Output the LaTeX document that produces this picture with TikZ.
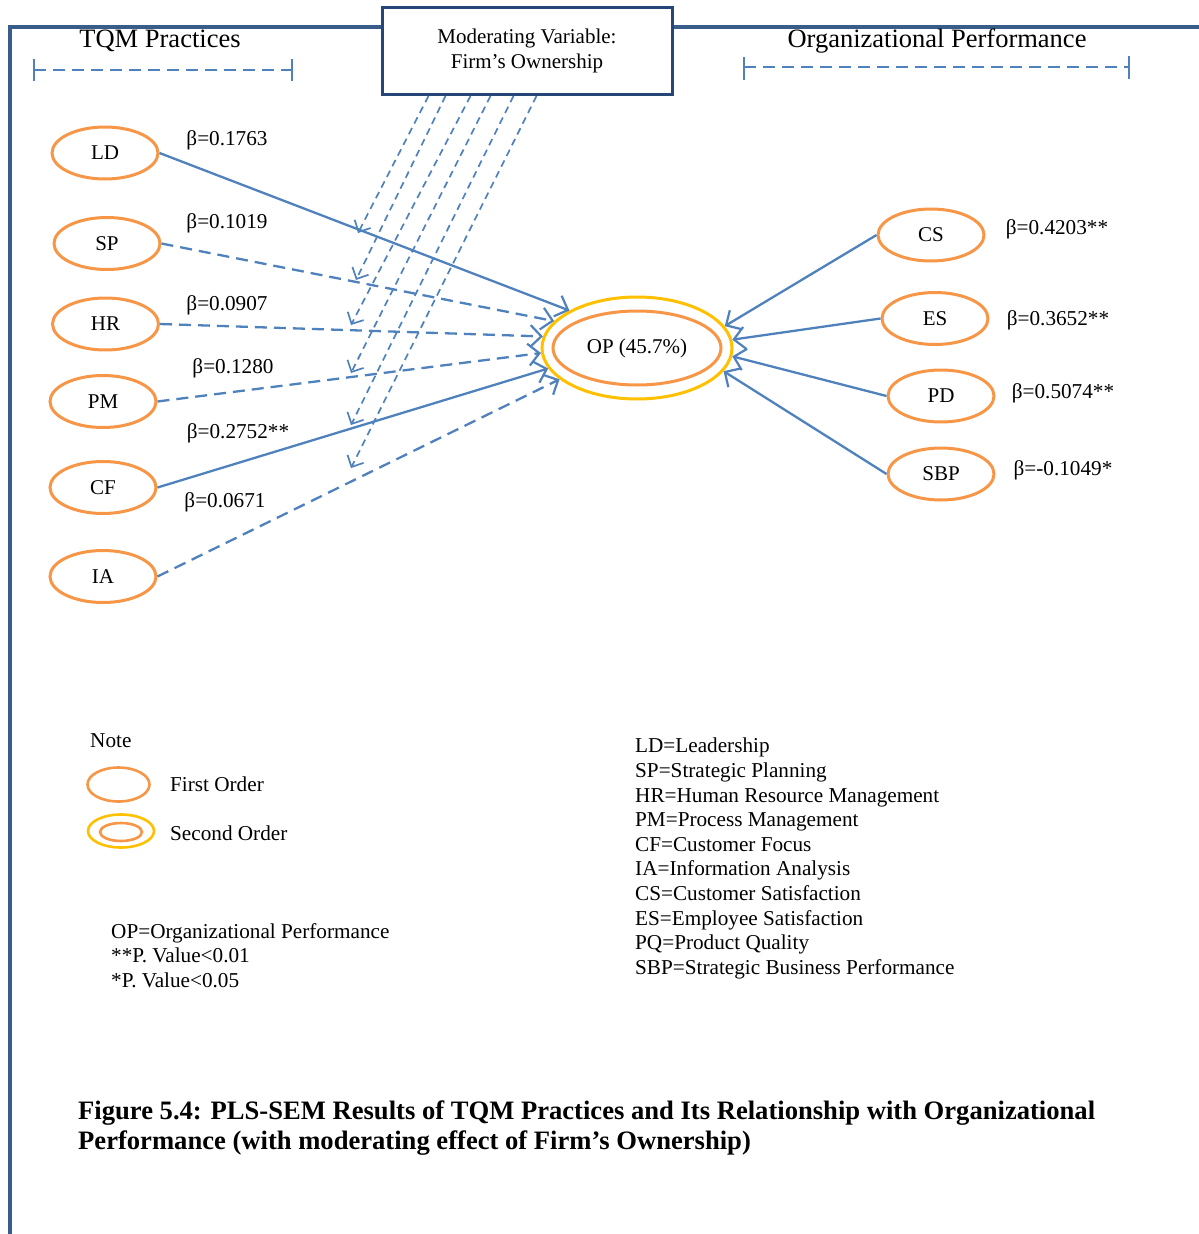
\documentclass[tikz,border=0pt]{standalone}
\usepackage{fontspec}
\setmainfont{Liberation Serif}
\usetikzlibrary{shapes.geometric,arrows.meta,calc}

\definecolor{frameC}{RGB}{56,93,138}
\definecolor{boxC}{RGB}{38,70,120}
\definecolor{lineC}{RGB}{79,129,189}
\definecolor{ordC}{RGB}{247,150,70}
\definecolor{secC}{RGB}{255,192,0}

\tikzset{
  txt/.style={inner sep=0pt, font=\fontsize{21.2}{24.6}\selectfont},
  firstord/.style={ellipse, draw=ordC, line width=3pt, minimum width=106pt,
    minimum height=52pt, inner sep=0pt, font=\fontsize{21}{24}\selectfont},
  outerop/.style={ellipse, draw=secC, line width=3pt, minimum width=190pt,
    minimum height=102pt, inner sep=0pt},
  innerop/.style={ellipse, draw=ordC, line width=3pt, minimum width=168pt,
    minimum height=74pt, inner sep=0pt, font=\fontsize{21}{24}\selectfont},
  barbtip/.style={-{Straight Barb[length=11pt,width=22pt,line width=2.2pt]}},
  solidlink/.style={draw=lineC, line width=2.3pt, barbtip},
  dashlink/.style={solidlink, dash pattern=on 12pt off 7pt},
  modlink/.style={draw=lineC, line width=1.7pt, dash pattern=on 7pt off 5pt,
    -{Straight Barb[length=9pt,width=18pt,line width=1.7pt]}},
  rangebar/.style={draw=lineC, line width=1.8pt, dash pattern=on 12pt off 7pt},
  tickbar/.style={draw=lineC, line width=1.8pt},
  heading/.style={inner sep=0pt, font=\fontsize{26.5}{30}\selectfont},
}

\begin{document}
\begin{tikzpicture}[x=1pt,y=-1pt]
\useasboundingbox (0,0) rectangle (1199,1234);

% outer frame
\draw[frameC, line width=4pt] (10,1234) -- (10,26.5) -- (1199,26.5);

% moderating variable box
\node[draw=boxC, line width=3pt, fill=white, minimum width=290pt,
  minimum height=87pt, align=center, inner sep=0pt,
  font=\fontsize{21}{25}\selectfont] (mod) at (527,51)
  {Moderating Variable:\\Firm’s Ownership};

% group headings
\node[heading] (tqm) at (160,41) {TQM Practices};
\node[heading] (orgp) at (937,41) {Organizational Performance};
\draw[rangebar] (34,70) -- (292,70);
\draw[tickbar] (34,59) -- (34,81);
\draw[tickbar] (292,59) -- (292,81);
\draw[rangebar] (744,67) -- (1129,67);
\draw[tickbar] (744,57) -- (744,80);
\draw[tickbar] (1129,56) -- (1129,79);

% first-order constructs
\node[firstord] (LD) at (105,153) {LD};
\node[firstord] (SP) at (107,243.5) {SP};
\node[firstord] (HR) at (105.5,324) {HR};
\node[firstord] (PM) at (103,401.5) {PM};
\node[firstord] (CF) at (103,487.5) {CF};
\node[firstord] (IA) at (103,576.5) {IA};

\node[firstord] (CS) at (931,235) {CS};
\node[firstord] (ES) at (935,318.5) {ES};
\node[firstord] (PD) at (941,396) {PD};
\node[firstord] (SBP) at (941,474) {SBP};

% second-order construct
\node[outerop] (OP) at (637,348) {};
\node[innerop] (OPin) at (637,348) {OP (45.7\%)};

% paths into OP
\draw[solidlink] (LD.east) -- (OP.151);
\draw[dashlink]  (SP.east) -- (OP.162);
\draw[dashlink]  (HR.east) -- (OP.173);
\draw[dashlink]  (PM.east) -- (OP.183);
\draw[solidlink] (CF.east) -- (OP.193);
\draw[dashlink]  (IA.east) -- (OP.202);

\draw[solidlink] (CS.west) -- (OP.14);
\draw[solidlink] (ES.west) -- (OP.5);
\draw[solidlink] (PD.west) -- (OP.-5);
\draw[solidlink] (SBP.west) -- (OP.-15);

% moderating effects
\coordinate (s1) at ($(mod.south west)+(48,0)$);
\coordinate (s2) at ($(mod.south west)+(65,0)$);
\coordinate (s3) at ($(mod.south west)+(90,0)$);
\coordinate (s4) at ($(mod.south west)+(110,0)$);
\coordinate (s5) at ($(mod.south west)+(133,0)$);
\coordinate (s6) at ($(mod.south west)+(156,0)$);
\coordinate (t1) at (358,233);
\coordinate (t2) at (356,280);
\coordinate (t3) at (351,325);
\coordinate (t4) at (351,373);
\coordinate (t5) at (351,425);
\coordinate (t6) at (351,468);
\foreach \i in {1,...,6} \draw[modlink] (s\i) -- (t\i);

% path coefficients
\node[txt] (bLD) at (227,140) {β=0.1763};
\node[txt] (bSP) at (227,223) {β=0.1019};
\node[txt] (bHR) at (227,305) {β=0.0907};
\node[txt] (bPM) at (233,368) {β=0.1280};
\node[txt] (bCF) at (238,433) {β=0.2752**};
\node[txt] (bIA) at (225,502) {β=0.0671};
\node[txt] (bCS) at (1057,229) {β=0.4203**};
\node[txt] (bES) at (1058,320) {β=0.3652**};
\node[txt] (bPD) at (1063,393) {β=0.5074**};
\node[txt] (bSBP) at (1063,470) {β=-0.1049*};

% legend
\node[txt, anchor=west] (note) at (90,741) {Note};
\node[ellipse, draw=ordC, line width=2.6pt, minimum width=62pt,
  minimum height=34pt, inner sep=0pt] (lg1) at (118.5,784.5) {};
\node[txt, anchor=west] (lg1t) at (170,784) {First Order};
\node[ellipse, draw=secC, line width=2.6pt, minimum width=66pt,
  minimum height=33pt, inner sep=0pt] (lg2) at (121,831) {};
\node[ellipse, draw=ordC, line width=2.6pt, minimum width=42pt,
  minimum height=18pt, inner sep=0pt] (lg2in) at (121,832) {};
\node[txt, anchor=west] (lg2t) at (170,833) {Second Order};

\node[txt, anchor=north west, align=left] (abbr) at (635,738)
  {LD=Leadership\\
   SP=Strategic Planning\\
   HR=Human Resource Management\\
   PM=Process Management\\
   CF=Customer Focus\\
   IA=Information Analysis\\
   CS=Customer Satisfaction\\
   ES=Employee Satisfaction\\
   PQ=Product Quality\\
   SBP=Strategic Business Performance};

\node[txt, anchor=north west, align=left] (sig) at (111,923)
  {OP=Organizational Performance\\
   **P. Value<0.01\\
   *P. Value<0.05};

% caption
\node[inner sep=0pt, anchor=north west, align=left,
  font=\fontsize{26.6}{30}\selectfont\bfseries] (cap) at (78,1101)
  {Figure 5.4: PLS-SEM Results of TQM Practices and Its Relationship with Organizational\\
   Performance (with moderating effect of Firm’s Ownership)};
\end{tikzpicture}
\end{document}
